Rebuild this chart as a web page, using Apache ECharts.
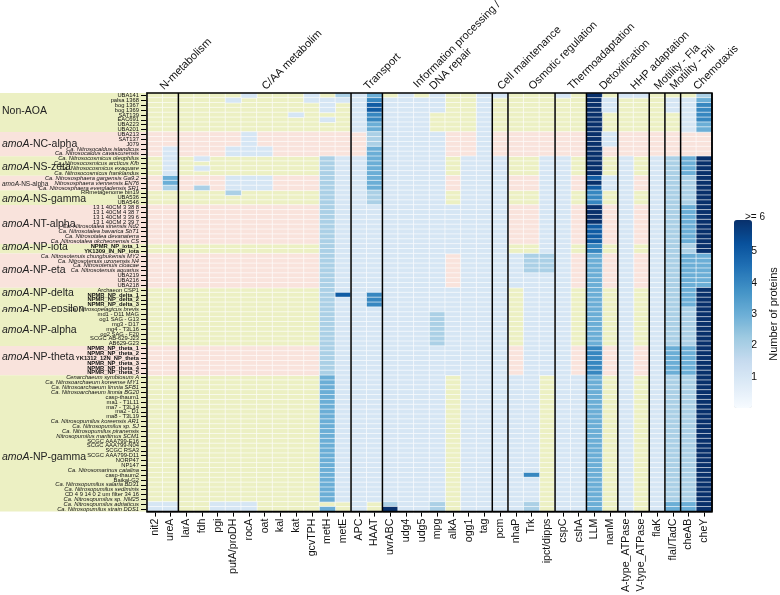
<!DOCTYPE html>
<html><head><meta charset="utf-8">
<script src="https://cdn.jsdelivr.net/npm/echarts@6/dist/echarts.min.js"></script>
<style>html,body{margin:0;padding:0;background:#fff}#c{width:780px;height:595px}</style>
</head><body><div id="c"></div>
<script>
// ---------- data ----------
const genes = ['nit2','ureA','larA','fdh','pgi','putA/proDH','rocA','oat','kal','kat','gcvTPH','metH','metE','APC','HAAT','uvrABC','udg4','udg5','mpg','alkA','ogg1','tag','pcm','nhaP','Trk','ipct/dipps','cspC','cshA','LLM','nanM','A-type_ATPase','V-type_ATPase','flaK','flaI/TadC','cheAB','cheY'];
const functionNames = ['N-metabolism','C/AA metabolim','Transport','Information processing /\nDNA repair','Cell maintenance','Osmotic regulation','Thermoadaptation','Detoxification','HHP adaptation','Motility - Fla','Motility - Pili','Chemotaxis'];
const functionSizes = [2,11,2,7,1,3,2,2,2,1,1,2];
const cladeNames = ['Non-AOA','amoA-NC-alpha','amoA-NS-zeta','amoA-NS-alpha','amoA-NS-gamma','amoA-NT-alpha','amoA-NP-iota','amoA-NP-eta','amoA-NP-delta','amoA-NP-epsilon','amoA-NP-alpha','amoA-NP-theta','amoA-NP-gamma'];
const cladeSizes = [8,5,4,3,3,8,2,7,4,1,7,6,28];
const cladeBand = ['g','p','g','p','g','p','g','p','g','g','g','p','g'];
const cladeLabelRow = [3.2,1.9,1.7,1.2,1.2,3.4,0.1,2.8,0.6,0.0,3.2,1.8,16.4];
const genomes = [
 'UBA141','palsa 1368','bog 1367','bog 1369','SAT139','EAC691','UBA223','UBA201',
 'UBA213','SAT137','J079','Ca. Nitrosocaldus islandicus','Ca. Nitrosocaldus cavascurensis',
 'Ca. Nitrosocosmicus oleophilus','Ca. Nitrosocosmicus arcticus Kfb','Ca. Nitrosocosmicus exaquare','Ca. Nitrosocosmicus franklandus',
 'Ca. Nitrososphaera gargensis Ga9.2','Nitrososphaera viennensis EN76','Ca. Nitrososphaera evergladensis SR1',
 'RRmetagenome bin19','UBA536','UBA546',
 '13 1 40CM 3 38 8','13 1 40CM 4 38 7','13 1 40CM 3 39 6','13 1 40CM 2 39 7','Ca. Nitrosotalea sinensis Nd2','Ca. Nitrosotalea bavarica SbT1','Ca. Nitrosotalea devanaterra','Ca. Nitrosotalea okcheonensis CS',
 'NPMR_NP_iota_1','YK1309_IN_NP_iota',
 'Ca. Nitrosotenuis chungbukensis MY2','Ca. Nitrosotenuis uzonensis N4','Ca. Nitrosotenuis cloacae','Ca. Nitrosotenuis aquarius','UBA219','UBA216','UBA218',
 'Archaeon CSP1','NPMR_NP_delta_1','NPMR_NP_delta_2','NPMR_NP_delta_3',
 'Ca. Nitrosopelagicus brevis',
 'md1 - D11 MAG','og1 SAG - G13','mg3 - D17','mg4 - T3L16','og2 SAG - F20','SCGC AB-629-J23','AB629-G23',
 'NPMR_NP_theta_1','NPMR_NP_theta_2','YK1312_12N_NP_theta','NPMR_NP_theta_3','NPMR_NP_theta_4','NPMR_NP_theta_5',
 'Cenarchaeum symbiosum A','Ca. Nitrosoarchaeum koreense MY1','Ca. Nitrosoarchaeum limnia SFB1','Ca. Nitrosoarchaeum limnia BG20','casp-thaum1','ma1 - T1L11','ma7 - T3L14','ma2 - D1','ma8 - T3L19',
 'Ca. Nitrosopumilus koreensis AR1','Ca. Nitrosopumilus sp. SJ','Ca. Nitrosopumilus piranensis','Nitrosopumilus maritimus SCM1','SCGC AAA799-E16','SCGC AAA799-N04','SCGC RSA3','SCGC AAA799-D11','NORP47','NP147',
 'Ca. Nitrosomarinus catalina','casp-thaum2','Baikal-G2','Ca. Nitrosopumilus salaria BD31','Ca. Nitrosopumilus sediminis','CD 4 9 14 0 2 um filter 34 16','Ca. Nitrosopumilus sp. NM25','Ca. Nitrosopumilus adriaticus','Ca. Nitrosopumilus strain DDS1'
];
// protein counts, one string per genome, columns in gene order (spaces only for readability)
const counts = [
 '000000 100010 213010 100110 001060 110002',
 '000001 000011 114111 100100 000061 000113',
 '000000 000001 015111 100100 000061 000114',
 '000000 000001 015111 100100 000061 000114',
 '000000 000100 014111 000100 000060 000014',
 '000000 000001 014111 000100 000060 000014',
 '000000 000000 013111 000100 000060 000013',
 '000000 000000 013111 000100 000060 000013',
 '000000 100000 002111 100100 000061 000000',
 '000000 100000 002111 100100 000061 000000',
 '000000 100000 002111 100100 000061 000000',
 '010001 110000 003111 100100 000060 000000',
 '010001 110000 003111 100100 000060 000000',
 '010100 000002 113111 101110 011060 101236',
 '010000 000002 113111 101110 011060 101236',
 '010100 000002 113111 101110 011060 101236',
 '010000 000002 113111 101110 011060 101236',
 '030001 110002 113111 101110 011051 101226',
 '030001 110002 113111 101110 011061 101226',
 '020201 110002 113111 101110 011051 101226',
 '000002 000002 112111 101110 011040 101226',
 '000000 000002 112111 101110 011040 101226',
 '000000 000002 112111 101110 011040 101226',
 '000000 000002 111111 111110 011060 101236',
 '000000 000002 111111 111110 011060 101236',
 '000000 000002 111111 111110 011060 101236',
 '000000 000002 111111 111110 011060 101236',
 '000000 000002 111111 111110 011050 101236',
 '000000 000002 111111 111110 011050 101236',
 '000000 000002 111111 111110 011050 101236',
 '000000 000002 111111 111110 011050 101236',
 '000000 000002 111111 111110 011040 101226',
 '000000 000002 111111 111110 011040 101226',
 '000000 000002 111111 101111 221030 101233',
 '000000 000002 111111 101111 221030 101233',
 '000000 000002 111111 101111 221030 101233',
 '000000 000002 111111 101111 221030 101233',
 '000000 000002 111111 101111 111030 101233',
 '000000 000002 111111 101111 111030 101233',
 '000000 000002 111111 101111 111030 101233',
 '000000 000002 111111 111110 111030 101236',
 '000000 000002 514111 111110 111030 101236',
 '000000 000002 114111 111110 111030 101236',
 '000000 000002 114111 111110 111030 101236',
 '000000 000002 111111 111110 111030 101226',
 '000000 000002 111111 211110 111030 101226',
 '000000 000002 111111 211110 111030 101226',
 '000000 000002 111111 211110 111030 101226',
 '000000 000002 111111 211110 111030 101226',
 '000000 000002 111111 211110 111030 101226',
 '000000 000002 111111 211110 111030 101226',
 '000000 000002 111111 211110 111030 101226',
 '000000 000002 111111 111110 111040 101336',
 '000000 000002 111111 111110 111040 101336',
 '000000 000002 111111 111110 111040 101336',
 '000000 000002 111111 111110 111040 101336',
 '000000 000002 111111 111110 111040 101336',
 '000000 000002 111111 111110 111040 101336',
 '000000 000003 111111 101111 101130 101226',
 '000000 000003 111111 101111 101130 101226',
 '000000 000003 111111 101111 101130 101226',
 '000000 000003 111111 101111 101130 101226',
 '000000 000003 111111 101111 101130 101226',
 '000000 000003 111111 101111 101130 101226',
 '000000 000003 111111 101111 101130 101226',
 '000000 000003 111111 101111 101130 101226',
 '000000 000003 111111 101111 101130 101226',
 '000000 000003 111111 101111 101130 101226',
 '000000 000003 111111 101111 101130 101226',
 '000000 000003 111111 101111 101130 101226',
 '000000 000003 111111 101111 101130 101226',
 '000000 000003 111111 101111 101130 101226',
 '000000 000003 111111 101111 101130 101226',
 '000000 000003 111111 101111 101130 101226',
 '000000 000003 111111 101111 101130 101226',
 '000000 000003 111111 101111 101130 101226',
 '000000 000003 111111 101111 101130 101226',
 '000000 000003 111111 101111 101130 101226',
 '000000 000003 111111 101111 401130 101226',
 '000000 000003 111111 101111 101130 101226',
 '000000 000003 111111 101111 101130 101226',
 '000000 000003 111111 101111 101130 101226',
 '000000 000003 111111 101111 101130 101226',
 '000000 000003 111111 101111 101130 101226',
 '110011 100000 010211 201111 201130 101336',
 '110011 100003 010611 201111 201130 101336'
];
const colorbarTicks = [1,2,3,4,5];
const colorbarTop = '>= 6';
const colorbarTitle = 'Number of proteins';

// ---------- build ----------
const BAND = {g:'#ecf0c3', p:'#f9e3dc'};
const BLUES = ['#f7fbff','#deebf7','#c6dbef','#9ecae1','#6baed6','#4292c6','#2171b5','#08519c','#08306b'];
const rowClade = [];
const cladeSpans = [];
{ let r = 0; cladeSizes.forEach((n,i)=>{ cladeSpans.push([0, r, r+n-1, i]); for(let k=0;k<n;k++) rowClade.push(i); r+=n; }); }
const funcSpans = [];
{ let c = 0; functionSizes.forEach((n,i)=>{ funcSpans.push([c, 0, c+n-1, i]); c+=n; }); }
const zerosG = [], zerosP = [], nonzero = [];
counts.forEach((s,r)=>{
  const v = s.replace(/ /g,'').split('').map(Number);
  v.forEach((x,c)=>{
    if (x>0) nonzero.push([c,r,x]);
    else (cladeBand[rowClade[r]]==='g' ? zerosG : zerosP).push([c,r,0]);
  });
});
function rowLabel(v){
  if (/^(NPMR|YK13)/.test(v)) return '{b|'+v+'}';
  if (/^(Ca\.|Nitroso|Cenarch)/.test(v)) return '{i|'+v+'}';
  return '{n|'+v+'}';
}
const FS = 5.8;
const FONT = 'Liberation Sans, Arial, sans-serif';
const chart = echarts.init(document.getElementById('c'));
const cellStyle = {borderColor:'#ffffff', borderWidth:0.6};
const CB = {left:734, top:220, width:18, height:188};
const option = {
  animation:false,
  backgroundColor:'#ffffff',
  grid:[
    {left:147, top:93, width:565, height:421, show:false},
    {left:CB.left, top:CB.top + CB.height/6, width:CB.width, height:CB.height*4/6, show:false}
  ],
  xAxis:[
    {type:'category', data:genes, gridIndex:0, position:'bottom',
     axisLine:{show:true, lineStyle:{color:'#000', width:1.5}},
     axisTick:{show:true, alignWithLabel:true, length:5, lineStyle:{color:'#000', width:1}},
     axisLabel:{rotate:90, fontSize:10.6, fontFamily:FONT, color:'#111', margin:7, interval:0},
     splitLine:{show:false}},
    {type:'value', gridIndex:1, show:false, min:0, max:1}
  ],
  yAxis:[
    {type:'category', data:genomes, inverse:true, gridIndex:0,
     axisLine:{show:true, lineStyle:{color:'#000', width:1.5}},
     axisTick:{show:true, alignWithLabel:true, length:6, lineStyle:{color:'#000', width:1}},
     axisLabel:{interval:0, margin:8, formatter:rowLabel,
       rich:{n:{fontSize:FS, lineHeight:5, fontFamily:FONT, color:'#111'},
             i:{fontSize:FS, lineHeight:5, fontFamily:FONT, fontStyle:'italic', color:'#111'},
             b:{fontSize:FS, lineHeight:5, fontFamily:FONT, fontWeight:'bold', color:'#111'}}},
     splitLine:{show:false}},
    {type:'value', gridIndex:1, min:1, max:5, interval:1, position:'right',
     axisLine:{show:false},
     axisTick:{show:true, length:4, lineStyle:{color:'#000', width:1}},
     axisLabel:{fontSize:11, fontFamily:FONT, color:'#111', margin:3,
       formatter:v=> colorbarTicks.includes(v) ? String(v) : ''},
     splitLine:{show:false},
     name:colorbarTitle, nameLocation:'middle', nameRotate:90, nameGap:20,
     nameTextStyle:{fontSize:11, fontFamily:FONT, color:'#111'}}
  ],
  visualMap:{type:'continuous', min:0, max:6, seriesIndex:3, calculable:false, hoverLink:false,
    orient:'vertical', left:CB.left, top:CB.top, itemWidth:CB.width, itemHeight:CB.height, padding:0,
    text:['',''], showLabel:false, inRange:{color:BLUES}},
  graphic:[{type:'text', left:CB.left+11, top:CB.top-8,
    style:{text:colorbarTop, fontSize:10, fontFamily:FONT, fill:'#111'}}],
  series:[
    {type:'custom', xAxisIndex:0, yAxisIndex:0, z:-5, clip:false, silent:true,
     data:cladeSpans, encode:{x:0, y:1},
     renderItem:(params, api)=>{
       const d = cladeSpans[params.dataIndex];
       const h = api.size([0,1])[1];
       const top = api.coord([0, d[1]])[1] - h/2;
       const bot = api.coord([0, d[2]])[1] + h/2;
       const gx = params.coordSys.x;
       const name = cladeNames[d[3]];
       const ly = top + h*cladeLabelRow[d[3]] + h/2;
       const fs = name==='amoA-NS-alpha' ? 6.5 : 10.5;
       const txt = name.startsWith('amoA') ? '{i|amoA}{n|'+name.slice(4)+'}' : '{n|'+name+'}';
       return {type:'group', children:[
         {type:'rect', shape:{x:0, y:top, width:gx, height:bot-top}, style:{fill:BAND[cladeBand[d[3]]]}},
         {type:'text', style:{text:txt, x:2, y:ly, verticalAlign:'middle', align:'left',
           rich:{i:{fontSize:fs, fontStyle:'italic', fontFamily:FONT, fill:'#222'},
                 n:{fontSize:fs, fontFamily:FONT, fill:'#222'}}}}
       ]};
     }},
    {type:'heatmap', xAxisIndex:0, yAxisIndex:0, data:zerosG, itemStyle:Object.assign({color:BAND.g}, cellStyle), emphasis:{disabled:true}},
    {type:'heatmap', xAxisIndex:0, yAxisIndex:0, data:zerosP, itemStyle:Object.assign({color:BAND.p}, cellStyle), emphasis:{disabled:true}},
    {type:'heatmap', xAxisIndex:0, yAxisIndex:0, data:nonzero, itemStyle:cellStyle, emphasis:{disabled:true}},
    {type:'custom', xAxisIndex:0, yAxisIndex:0, z:10, clip:false, silent:true,
     data:funcSpans, encode:{x:0, y:1},
     renderItem:(params, api)=>{
       const d = funcSpans[params.dataIndex];
       const w = api.size([1,0])[0];
       const cs = params.coordSys;
       const xl = api.coord([d[0],0])[0] - w/2;
       const xr = api.coord([d[2],0])[0] + w/2;
       const xc = (xl+xr)/2;
       const lines = functionNames[d[3]].split('\n');
       const children = [
         {type:'line', shape:{x1:xr, y1:cs.y, x2:xr, y2:cs.y+cs.height}, style:{stroke:'#000', lineWidth:1.5}}
       ];
       if (d[0]===0) children.push({type:'rect', shape:{x:cs.x, y:cs.y, width:cs.width, height:cs.height}, style:{fill:null, stroke:'#000', lineWidth:1.5}});
       lines.forEach((t,k)=>{
         const last = (k===lines.length-1);
         const px = lines.length>1 ? (last ? xc-2 : xc-18) : xc+3;
         const py = lines.length>1 ? (last ? cs.y-1 : cs.y-3) : cs.y-1;
         children.push({type:'text', x:px, y:py, rotation:Math.PI/4,
           style:{text:t, x:0, y:0, align:'left', verticalAlign:'bottom', fontSize:11, fontFamily:FONT, fill:'#111'}});
       });
       return {type:'group', children};
     }}
  ]
};
chart.setOption(option);
</script></body></html>
